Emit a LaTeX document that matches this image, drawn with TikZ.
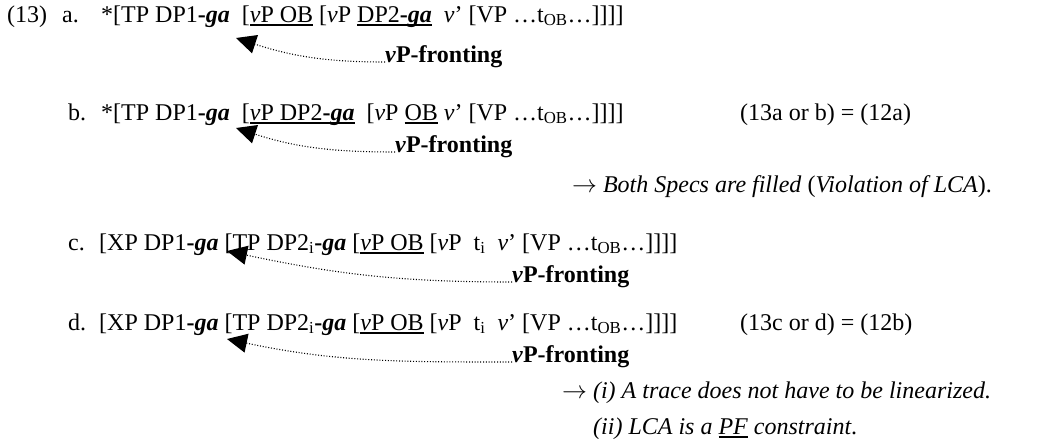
\documentclass[tikz,border=0pt]{standalone}
\usepackage{fontspec}
\setmainfont{Liberation Serif}
\usetikzlibrary{arrows.meta}
\tikzset{line/.style = {anchor = base west, inner sep = 0, font = \fontsize{24}{28}\selectfont}}
\tikzset{move/.style = {dash pattern = on 1pt off 1.8pt, line width = 1.1pt, -{Triangle[length = 20pt, width = 19pt]}}}
\newcommand{\ulin}[1]{\setbox0=\hbox{#1}\rlap{\rule[-3.5pt]{\wd0}{1.4pt}}\box0\relax}
\newcommand{\ga}{\textbf{-\textit{ga}}}
\newcommand{\vv}{\textit{v}}
\newcommand{\front}{\textbf{\textit{v}P-fronting}}

\begin{document}
\begin{tikzpicture}[x = 1pt, y = -1pt]
    \useasboundingbox (0, 0) rectangle (1053, 442);

    \node [line] (exnum) at (7, 22) {(13)};

    \node [line] (lbla) at (62, 22) {a.};
    \node [line] (senta) at (101, 22) {*[TP DP1\ga{}\ \ [\ulin{\vv P OB} [\vv P \ulin{DP2\ga}\ \ \vv’ [VP …t\textsubscript{OB}…]]]]};
    \node [line] (frontA) at (385, 62) {\front};
    \coordinate (tipA) at (236, 38);
    \draw [move] (frontA.base west) to [out = 180, in = -18] (tipA);

    \node [line] (lblb) at (68, 120) {b.};
    \node [line] (sentb) at (101, 120) {*[TP DP1\ga{}\ \ [\ulin{\vv P DP2\ga}\ \ [\vv P \ulin{OB} \vv’ [VP …t\textsubscript{OB}…]]]]};
    \node [line] (eqb) at (740, 120) {(13a or b) = (12a)};
    \node [line] (frontB) at (395, 152) {\front};
    \coordinate (tipB) at (236, 128);
    \draw [move] (frontB.base west) to [out = 180, in = -18] (tipB);
    \node [line] (notea) at (572, 192) {\(\rightarrow\) \textit{Both Specs are filled} (\textit{Violation of LCA}).};

    \node [line] (lblc) at (68, 250) {c.};
    \node [line] (sentc) at (99, 250) {[XP DP1\ga{}\ [TP DP2\textsubscript{i}\ga{} [\ulin{\vv P OB} [\vv P\ \ t\textsubscript{i}\ \ \vv’ [VP …t\textsubscript{OB}…]]]]};
    \node [line] (frontC) at (512, 282) {\front};
    \coordinate (tipC) at (227, 251);
    \draw [move] (frontC.base west) to [out = 180, in = -12] (tipC);

    \node [line] (lbld) at (68, 330) {d.};
    \node [line] (sentd) at (99, 330) {[XP DP1\ga{}\ [TP DP2\textsubscript{i}\ga{} [\ulin{\vv P OB} [\vv P\ \ t\textsubscript{i}\ \ \vv’ [VP …t\textsubscript{OB}…]]]]};
    \node [line] (eqd) at (740, 330) {(13c or d) = (12b)};
    \node [line] (frontD) at (512, 362) {\front};
    \coordinate (tipD) at (227, 339);
    \draw [move] (frontD.base west) to [out = 180, in = -12] (tipD);

    \node [line] (noteb) at (562, 398) {\(\rightarrow\) \textit{(i) A trace does not have to be linearized.}};
    \node [line] (notec) at (593, 434) {\textit{(ii) LCA is a \ulin{PF} constraint}.};

\end{tikzpicture}
\end{document}
